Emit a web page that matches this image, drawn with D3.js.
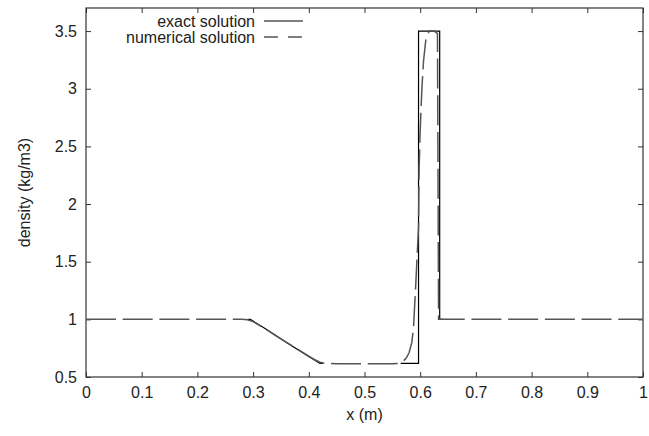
<!DOCTYPE html>
<html>
<head>
<meta charset="utf-8">
<script src="https://cdn.jsdelivr.net/npm/d3@7/dist/d3.min.js"></script>
<style>
html,body{margin:0;padding:0;background:#fff;}
svg{display:block;}
text{font-family:"Liberation Sans",Arial,sans-serif;fill:#222;}
</style>
</head>
<body>
<svg id="chart" width="649" height="436"></svg>
<script>
// ---- data ----
const xTicks = [0, 0.1, 0.2, 0.3, 0.4, 0.5, 0.6, 0.7, 0.8, 0.9, 1];
const yTicks = [0.5, 1, 1.5, 2, 2.5, 3, 3.5];
const xTickLabels = ["0", "0.1", "0.2", "0.3", "0.4", "0.5", "0.6", "0.7", "0.8", "0.9", "1"];
const yTickLabels = ["0.5", "1", "1.5", "2", "2.5", "3", "3.5"];

// exact solution: visible segments (null = break)
const exactX = [0.29, 0.295, 0.30, 0.32, 0.34, 0.36, 0.38, 0.40, 0.42, 0.425, null, 0.565, 0.597, 0.597, 0.635, 0.635, 0.64];
const exactY = [1.0, 1.0, 0.985, 0.925, 0.862, 0.80, 0.738, 0.678, 0.618, 0.618, null, 0.618, 0.618, 3.5, 3.5, 1.0, 1.0];

const numX = [0, 0.27, 0.28, 0.29, 0.30, 0.32, 0.34, 0.36, 0.38, 0.40, 0.41, 0.42, 0.43, 0.45, 0.50, 0.55, 0.56, 0.565, 0.57, 0.575, 0.58, 0.585, 0.588, 0.592, 0.595, 0.597, 0.598, 0.600, 0.603, 0.606, 0.610, 0.616, 0.625, 0.631, 0.633, 0.70, 0.80, 0.90, 1.0];
const numY = [1.0, 1.0, 1.0, 0.997, 0.98, 0.922, 0.86, 0.80, 0.74, 0.68, 0.652, 0.628, 0.618, 0.615, 0.615, 0.615, 0.618, 0.625, 0.64, 0.665, 0.71, 0.8, 0.93, 1.3, 1.6, 1.8, 2.3, 2.64, 3.0, 3.24, 3.42, 3.5, 3.5, 3.48, 1.0, 1.0, 1.0, 1.0, 1.0];

const legendLabels = ["exact solution", "numerical solution"];

// ---- layout ----
const L = 86, R = 643, T = 8, B = 377;
const svg = d3.select("#chart");

const x = d3.scaleLinear().domain([0, 1]).range([L, R]);
const y = d3.scaleLinear().domain([0.5, 3.7]).range([B, T]);

const frameColor = "#333";
const tickLen = 5;

// axes (ticks inward, mirrored)
const gB = svg.append("g").attr("transform", `translate(0,${B})`)
  .call(d3.axisBottom(x).tickValues(xTicks).tickFormat((d, i) => xTickLabels[i]).tickSizeInner(-tickLen).tickSizeOuter(0).tickPadding(10));
const gT = svg.append("g").attr("transform", `translate(0,${T})`)
  .call(d3.axisTop(x).tickValues(xTicks).tickFormat("").tickSizeInner(-tickLen).tickSizeOuter(0));
const gL = svg.append("g").attr("transform", `translate(${L},0)`)
  .call(d3.axisLeft(y).tickValues(yTicks).tickFormat((d, i) => yTickLabels[i]).tickSizeInner(-tickLen).tickSizeOuter(0).tickPadding(9));
const gR = svg.append("g").attr("transform", `translate(${R},0)`)
  .call(d3.axisRight(y).tickValues(yTicks).tickFormat("").tickSizeInner(-tickLen).tickSizeOuter(0));

[gB, gT, gL, gR].forEach(g => {
  g.select(".domain").remove();
  g.selectAll(".tick line").attr("stroke", frameColor).attr("stroke-width", 1);
  g.selectAll(".tick text").attr("font-size", 16).attr("fill", "#222")
    .attr("font-family", "'Liberation Sans', Arial, sans-serif");
});

// frame
svg.append("rect").attr("x", L).attr("y", T).attr("width", R - L).attr("height", B - T)
  .attr("fill", "none").attr("stroke", frameColor).attr("stroke-width", 1.2);

// lines
const exactData = exactX.map((v, i) => [v, exactY[i]]);
const numData = numX.map((v, i) => [v, numY[i]]);
const line = d3.line().defined(d => d[0] !== null && d[1] !== null).x(d => x(d[0])).y(d => y(d[1]));

svg.append("path").datum(exactData).attr("d", line)
  .attr("fill", "none").attr("stroke", "#000").attr("stroke-width", 1.2);
svg.append("path").datum(numData).attr("d", line)
  .attr("fill", "none").attr("stroke", "#555").attr("stroke-width", 1.5)
  .attr("stroke-dasharray", "30,6.7");

// axis titles
svg.append("text").attr("x", (L + R) / 2).attr("y", 420).attr("text-anchor", "middle")
  .attr("font-size", 16).text("x (m)");
svg.append("text").attr("transform", `translate(30,${(T + B) / 2}) rotate(-90)`)
  .attr("text-anchor", "middle").attr("font-size", 16).text("density (kg/m3)");

// legend
const legY = [21, 37];
const legStyles = [{ c: "#000", w: 1.2, d: null }, { c: "#555", w: 1.5, d: "14,10" }];
legendLabels.forEach((lab, i) => {
  svg.append("text").attr("x", 255).attr("y", legY[i] + 5.5).attr("text-anchor", "end")
    .attr("font-size", 16).text(lab);
  const ln = svg.append("line").attr("x1", 264).attr("x2", 303).attr("y1", legY[i]).attr("y2", legY[i])
    .attr("stroke", legStyles[i].c).attr("stroke-width", legStyles[i].w);
  if (legStyles[i].d) ln.attr("stroke-dasharray", legStyles[i].d);
});
</script>
</body>
</html>
